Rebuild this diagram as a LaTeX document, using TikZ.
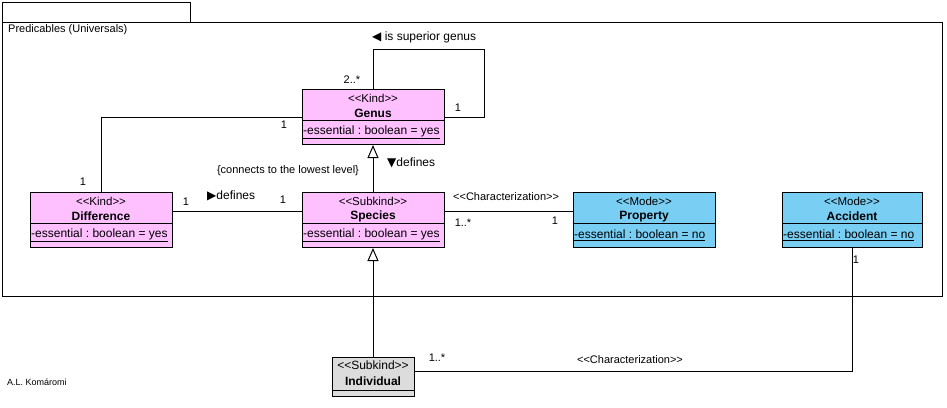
\documentclass[tikz,border=0pt]{standalone}
\usepackage{fontspec}
\setmainfont{Liberation Sans}[Ligatures=TeXOff]
\newfontfamily\dejavu{DejaVu Sans}
\usetikzlibrary{arrows.meta,calc}
\frenchspacing
\definecolor{pinkc}{RGB}{255,192,255}
\definecolor{bluec}{RGB}{121,206,244}
\definecolor{grayc}{RGB}{220,220,220}
\tikzset{
  box/.style={draw=black, line width=1pt, inner sep=0pt, rectangle},
  st/.style={font=\fontsize{11.5}{13}\selectfont, inner sep=0pt},
  nm/.style={font=\fontsize{12}{14}\selectfont\bfseries, inner sep=0pt},
  attr/.style={font=\fontsize{12}{14}\selectfont, inner sep=0pt, anchor=west},
  lbl/.style={font=\fontsize{11}{13}\selectfont, inner sep=0pt},
  asn/.style={font=\fontsize{12}{14}\selectfont, inner sep=0pt, anchor=west},
  conn/.style={line width=1pt},
  gen/.style={conn, -{Triangle[open, length=13pt, width=11pt, fill=white]}},
}
\newcommand\umlclass[8]{%
  \node[box, fill=#5, minimum width=#4, minimum height=55, anchor=north] (#1) at (#2,#3) {};
  \draw[line width=1pt] ($(#1.north west)+(0,31)$) -- ($(#1.north east)+(0,31)$);
  \node[st] (#1-st) at (#2,#3+9) {#6};
  \node[nm] (#1-nm) at (#2,#3+24.5) {#7};
  \node[attr] (#1-at) at ($(#1.north west)+(1.5,43)$) {\underline{#8}};
}
\begin{document}
\begin{tikzpicture}[x=1pt,y=-1pt]
\useasboundingbox[fill=white] (0,0) rectangle (947,407);
% package
\node[box, minimum width=188, minimum height=20, anchor=north west] (tab) at (2,2) {};
\node[box, minimum width=940, minimum height=274, anchor=north west] (pkg) at (2,22) {};
\node[lbl, anchor=west] (pkgname) at (8,30) {Predicables (Universals)};
% classes
\umlclass{genus}{373}{89}{142}{pinkc}{<<Kind>>}{Genus}{-essential : boolean = yes}
\umlclass{diff}{101}{192}{142}{pinkc}{<<Kind>>}{Difference}{-essential : boolean = yes}
\umlclass{species}{373}{192}{142}{pinkc}{<<Subkind>>}{Species}{-essential : boolean = yes}
\umlclass{prop}{644}{192}{142}{bluec}{<<Mode>>}{Property}{-essential : boolean = no}
\umlclass{acc}{852}{192}{140}{bluec}{<<Mode>>}{Accident}{-essential : boolean = no}
% individual
\node[box, fill=grayc, minimum width=82, minimum height=39, anchor=north] (indiv) at (373,357) {};
\draw[line width=1pt] ($(indiv.north west)+(0,33)$) -- ($(indiv.north east)+(0,33)$);
\node[st, font=\fontsize{12}{14}\selectfont] (indiv-st) at (373,365) {<<Subkind>>};
\node[nm] (indiv-nm) at (373,381) {Individual};
% connectors
\draw[conn] (genus.north) |- (484,49) |- (genus.east);
\draw[conn] (genus.west) -| (diff.north);
\draw[gen] (species.north) -- (genus.south);
\draw[gen] (indiv.north) -- (species.south);
\draw[conn] ([yshift=8.5pt]diff.east) -- ([yshift=8.5pt]species.west);
\draw[conn] ([yshift=8.5pt]species.east) -- ([yshift=8.5pt]prop.west);
\draw[conn] (acc.south) |- ([yshift=5.5pt]indiv.east);
% labels
\node[lbl] (m1) at (352,80) {2..*};
\node[lbl] (m2) at (458,108) {1};
\node[asn] (a1) at (372,37) {{\dejavu ◀} is superior genus};
\node[lbl] (m3) at (284,125) {1};
\node[lbl] (m4) at (83,182) {1};
\node[lbl] (m5) at (186,202) {1};
\node[asn] (a2) at (207,196) {{\dejavu ▶}defines};
\node[lbl] (m6) at (283,200) {1};
\node[lbl] (c1) at (288,171) {\{connects to the lowest level\}};
\node[asn] (a3) at (387,163) {{\dejavu ▼}defines};
\node[lbl, anchor=west] (a4) at (453,197) {<<Characterization>>};
\node[lbl] (m7) at (463,223) {1..*};
\node[lbl] (m8) at (555,221) {1};
\node[lbl] (m9) at (856,260) {1};
\node[lbl] (m10) at (437,358) {1..*};
\node[lbl] (a5) at (630,360) {<<Characterization>>};
\node[lbl, anchor=west, font=\fontsize{9}{11}\selectfont] (author) at (7,382) {A.L. Komáromi};
\end{tikzpicture}
\end{document}
